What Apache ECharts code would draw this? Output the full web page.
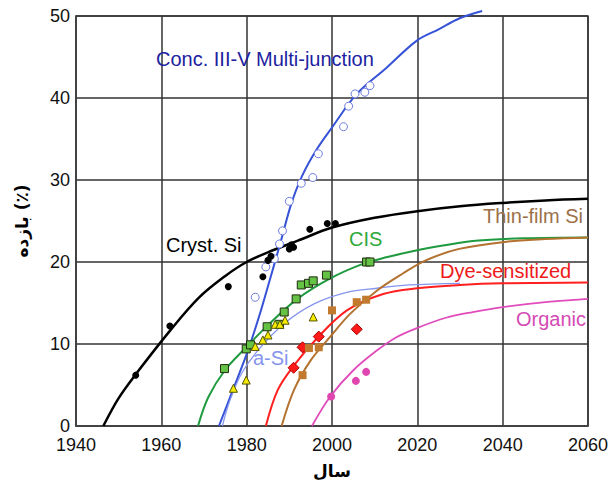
<!DOCTYPE html>
<html><head><meta charset="utf-8">
<script src="https://cdn.jsdelivr.net/npm/echarts@6/dist/echarts.min.js"></script>
<style>html,body{margin:0;padding:0;background:#fff}#c{width:611px;height:485px}</style>
</head><body><div id="c"></div>
<script>
// Axis ticks
var xTicks = [1940, 1960, 1980, 2000, 2020, 2040, 2060];
var yTicks = [0, 10, 20, 30, 40, 50];

// Fitted trend curves
var crystSiCurve = [[1946.4,0],[1950,3.4],[1954,6.3],[1962,11.6],[1968.7,15.6],[1975,18.3],[1980,20],[1986,21.4],[1992,22.6],[2000,24.2],[2010,25.4],[2020,26.2],[2030,26.8],[2040,27.2],[2050,27.5],[2060,27.7]];
var conc3VCurve = [[1973.5,0],[1977,4.7],[1980.3,9.2],[1983,13.5],[1985.3,17.6],[1988,22.5],[1990.4,27.0],[1993,30.5],[1996.5,33.8],[2000,36.4],[2005.8,40.5],[2012.8,43.7],[2019.9,47.0],[2025.1,48.4],[2029.8,49.7],[2035.2,50.6]];
var cisCurve = [[1968.6,0],[1971,3.5],[1974.9,6.8],[1979.9,9.6],[1985,12.3],[1991.9,15.5],[1999.6,18],[2007.4,19.8],[2013,20.6],[2019.7,21.4],[2026,22.0],[2033.6,22.6],[2045,22.9],[2060,23.0]];
var aSiCurve = [[1974.3,0],[1976,3],[1978.8,6.4],[1982.6,9.2],[1988.8,12.5],[1995.8,14.9],[2003.5,16.3],[2010.5,16.8],[2018,17.2],[2030,17.4]];
var dyeCurve = [[1984.5,0],[1987.3,4.4],[1991.1,7.4],[1996.5,10.7],[2003.5,14.1],[2012,16.1],[2020,16.8],[2030,17.2],[2040,17.4],[2060,17.5]];
var thinFilmCurve = [[1988.2,0],[1991.1,4.4],[1995,8.0],[1999.6,10.9],[2004.3,13.7],[2010.5,16.5],[2016.6,18.6],[2022,20.2],[2029.8,21.6],[2041.3,22.5],[2050,22.8],[2060,23.0]];
var organicCurve = [[1995.3,0],[1999.6,3.6],[2005,6.8],[2010.5,9.2],[2015,10.8],[2019.7,11.9],[2026.7,13.2],[2033,13.9],[2040,14.5],[2050,15.1],[2060,15.5]];

// Measured data points
var crystSiPts = [[1954,6.2],[1962,12.2],[1975.7,17.0],[1983.8,18.2],[1985,20.2],[1985.7,20.7],[1990,21.6],[1990.5,22.1],[1991,21.8],[1994.8,24.0],[1998.9,24.7],[2000.8,24.7]];
var conc3VPts = [[1982,15.7],[1984.5,19.4],[1986.5,20.4],[1987.7,22.2],[1988.4,23.8],[1990,27.4],[1992.8,29.6],[1995.5,30.3],[1996.8,33.2],[2002.7,36.5],[2003.9,39.0],[2005.4,40.5],[2007.7,40.7],[2008.9,41.5]];
var cisPts = [[1974.8,7.0],[1979.9,9.4],[1980.9,9.9],[1984.8,12.1],[1987.7,12.4],[1988.8,13.9],[1991.6,15.5],[1992.8,17.2],[1994.5,17.4],[1995.6,17.7],[1998.7,18.4],[2008.1,20.0],[2008.9,20.0]];
var aSiPts = [[1976.9,4.6],[1979.9,5.6],[1982,9.7],[1983.8,10.5],[1985,11.1],[1986.7,12.4],[1987.8,12.4],[1989,12.9],[1995.6,13.3]];
var dyePts = [[1991,7.1],[1993.1,9.6],[1996.9,10.9],[2005.8,11.8]];
var thinFilmPts = [[1993.1,6.2],[1994.6,9.5],[1996.9,9.6],[2000,14.1],[2005.8,15.1],[2008,15.4]];
var organicPts = [[1999.8,3.6],[2005.6,5.5],[2008,6.6]];

var chart = echarts.init(document.getElementById('c'), null, {renderer: 'svg'});

function curve(name, data, color, width, clip) {
  return {name: name, type: 'line', data: data, smooth: 0.35, showSymbol: false, symbol: 'none',
    lineStyle: {color: color, width: width}, z: 3, animation: false, clip: clip !== false};
}
function pts(name, data, symbol, size, fill, border, bw) {
  return {name: name, type: 'scatter', data: data, symbol: symbol, symbolSize: size,
    itemStyle: {color: fill, borderColor: border, borderWidth: bw, opacity: 1}, z: 4, animation: false};
}

var labelFont = 'Liberation Sans, Arial, sans-serif';
function lab(text, x, y, color) {
  return {type: 'text', left: x, top: y, z: 10,
    style: {text: text, fill: color, font: '20px ' + labelFont}};
}

chart.setOption({
  animation: false,
  grid: {left: 76, right: 17, top: 16, bottom: 59, show: true, borderColor: '#444', borderWidth: 1.5},
  xAxis: {
    type: 'value', min: xTicks[0], max: xTicks[xTicks.length - 1], interval: 20,
    name: 'سال', nameLocation: 'middle', nameGap: 36,
    nameTextStyle: {fontFamily: 'DejaVu Sans', fontWeight: 'bold', fontSize: 17, color: '#000'},
    axisLine: {lineStyle: {color: '#444', width: 1.5}},
    axisTick: {show: false},
    axisLabel: {color: '#111', fontSize: 18, fontFamily: labelFont, margin: 10, formatter: function(v){return String(v);}},
    splitLine: {show: true, lineStyle: {color: '#333', width: 1.5}}
  },
  yAxis: {
    type: 'value', min: yTicks[0], max: yTicks[yTicks.length - 1], interval: 10,
    name: 'بازده (٪)', nameLocation: 'middle', nameGap: 46, nameRotate: 90,
    nameTextStyle: {fontFamily: 'DejaVu Sans', fontWeight: 'bold', fontSize: 17, color: '#000'},
    axisLine: {show: true, lineStyle: {color: '#444', width: 1.5}},
    axisTick: {show: false},
    axisLabel: {color: '#111', fontSize: 18, fontFamily: labelFont, margin: 6, padding: [0, 0, 4, 0]},
    splitLine: {show: true, lineStyle: {color: '#333', width: 1.5}}
  },
  series: [
    curve('Cryst. Si', crystSiCurve, '#000000', 2.5),
    curve('Conc. III-V Multi-junction', conc3VCurve, '#3652d6', 2, false),
    curve('CIS', cisCurve, '#1f9a3e', 2),
    curve('a-Si', aSiCurve, '#8595ee', 1.3),
    curve('Dye-sensitized', dyeCurve, '#ff1f1f', 2),
    curve('Thin-film Si', thinFilmCurve, '#b3722f', 2),
    curve('Organic', organicCurve, '#e04cbb', 1.8),
    pts('Conc. III-V pts', conc3VPts, 'circle', 8, '#ffffff', '#6d7ce0', 1),
    pts('Cryst. Si pts', crystSiPts, 'circle', 7, '#000000', '#000000', 0),
    pts('CIS pts', cisPts, 'rect', 8, '#64c244', '#1f2a10', 1),
    pts('a-Si pts', aSiPts, 'triangle', 8, '#f6ea00', '#555500', 1),
    pts('Dye pts', dyePts, 'diamond', 11, '#ff1a1a', '#aa0000', 1),
    pts('Thin-film pts', thinFilmPts, 'rect', 8, '#c27a2e', '#c27a2e', 0),
    pts('Organic pts', organicPts, 'circle', 8, '#e046b0', '#e046b0', 0)
  ],
  graphic: [
    lab('Conc. III-V Multi-junction', 156, 49, '#1c22a0'),
    lab('Cryst. Si', 166, 235, '#000000'),
    lab('CIS', 349, 229, '#2ea83a'),
    lab('Thin-film Si', 483, 206, '#9c7048'),
    lab('Dye-sensitized', 440, 261, '#ee1a1a'),
    lab('Organic', 516, 309, '#d44ab4'),
    lab('a-Si', 253, 348, '#8595ee')
  ]
});
</script></body></html>
